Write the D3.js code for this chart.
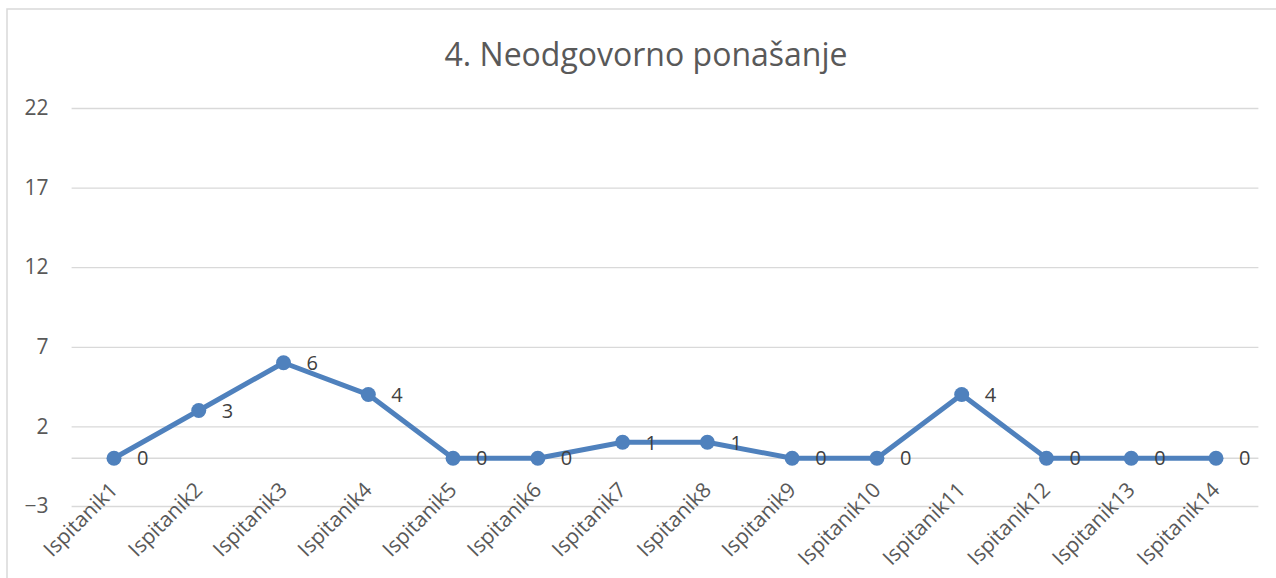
<!DOCTYPE html>
<html><head><meta charset="utf-8">
<script src="https://cdn.jsdelivr.net/npm/d3@7"></script>
<style>body{margin:0;background:#fff}svg{display:block}text{font-family:"Open Sans","Noto Sans",sans-serif}</style>
</head><body><svg id="c" width="1276" height="578"></svg>
<script>
const categories = ["Ispitanik1","Ispitanik2","Ispitanik3","Ispitanik4","Ispitanik5","Ispitanik6","Ispitanik7","Ispitanik8","Ispitanik9","Ispitanik10","Ispitanik11","Ispitanik12","Ispitanik13","Ispitanik14"];
const values = [0,3,6,4,0,0,1,1,0,0,4,0,0,0];
const yTicks = [-3,2,7,12,17,22];
const title = "4. Neodgovorno ponašanje";

const svg = d3.select("#c");
const W = 1276, H = 578;
const left = 71.6, right = 1258.4;
const x = d3.scaleBand().domain(categories).range([left, right]);
const y = d3.scaleLinear().domain([-3, 22]).range([506, 108]);
const FF = "'Open Sans','Noto Sans',sans-serif";

// frame
svg.append("path").attr("d", `M7,${H+2}V9H${W+2}`).attr("fill","none").attr("stroke","#d9d9d9").attr("stroke-width",1.5);

svg.append("text").attr("x", 646).attr("y", 66).attr("text-anchor","middle")
  .attr("font-size", 32).attr("fill","#595959").text(title);

// gridlines
const gy = svg.append("g").attr("transform",`translate(${left},0)`)
  .call(d3.axisLeft(y).tickValues(yTicks).tickSize(-(right-left)).tickFormat(d3.format("d")).tickPadding(23));
gy.select(".domain").remove();
gy.attr("font-size",21);
gy.selectAll(".tick line").attr("stroke","#d9d9d9").attr("stroke-width",1.3);
gy.selectAll(".tick text").attr("font-size",21).attr("fill","#595959").attr("font-family",FF);

// zero axis line
svg.append("line").attr("x1",left).attr("x2",right).attr("y1",y(0)).attr("y2",y(0))
  .attr("stroke","#d9d9d9").attr("stroke-width",1.3);

// x axis labels
const gx = svg.append("g").attr("transform",`translate(0,${y(0)})`)
  .call(d3.axisBottom(x).tickSize(0).tickPadding(0));
gx.select(".domain").remove();
gx.attr("font-size",21);
gx.selectAll(".tick text").attr("font-size",21).attr("fill","#595959")
  .attr("font-family",FF)
  .attr("text-anchor","end").attr("dy",null).attr("y",0)
  .attr("transform","translate(5,33) rotate(-45)");

const cx = d => x(d) + x.bandwidth()/2;
const data = categories.map((c,i)=>({c, v: values[i]}));

svg.append("path").datum(data)
  .attr("d", d3.line().x(d=>cx(d.c)).y(d=>y(d.v)))
  .attr("fill","none").attr("stroke","#4f81bd").attr("stroke-width",5).attr("stroke-linejoin","round");

svg.selectAll("circle.pt").data(data).join("circle").attr("class","pt")
  .attr("cx",d=>cx(d.c)).attr("cy",d=>y(d.v)).attr("r",7.5).attr("fill","#4f81bd");

svg.selectAll("text.lbl").data(data).join("text").attr("class","lbl")
  .attr("x",d=>cx(d.c)+23).attr("y",d=>y(d.v)).attr("dy","0.36em")
  .attr("font-size",20).attr("fill","#404040").text(d=>d.v);
</script></body></html>
